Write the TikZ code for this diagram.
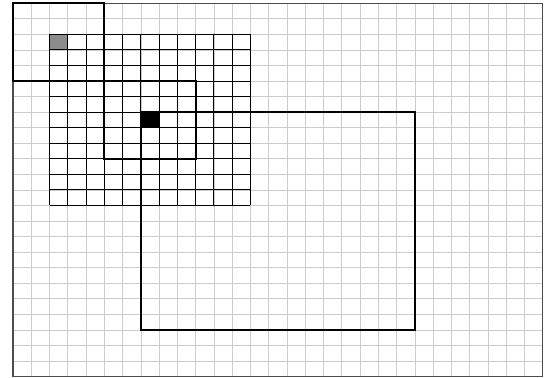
\documentclass[tikz,border=0pt]{standalone}
\begin{document}
\begin{tikzpicture}[
x=0.5cm, y=0.4258cm,
bggrid/.style={draw, line width=0.5pt, gray!40},
outerframe/.style={draw, line width=0.8pt, black!70},
kernelgrid/.style={draw, line width=0.7pt, black},
window/.style={draw, line width=1.4pt, black},
startcell/.style={fill=gray!90},
centercell/.style={fill=black}
]

% margins of the reference
\useasboundingbox (-0.712,-0.084) rectangle (29.126,24.21);

% =====================================================
% Background grid
% =====================================================
\draw[bggrid, step={(1,1)}] (0,0) grid (29,24);
\draw[outerframe] (0,0) rectangle (29,24);

% Marked cells
\path[startcell] (2,21) rectangle (3,22);
\path[centercell] (7,16) rectangle (8,17);

% Fine black grid
\draw[kernelgrid, step={(1,1)}] (2,11) grid (13,22);

% Windows
\draw[window] (0,19) rectangle (5,24);
\draw[window] (5,14) rectangle (10,19);
\draw[window] (7,3) rectangle (22,17);

\end{tikzpicture}
\end{document}
